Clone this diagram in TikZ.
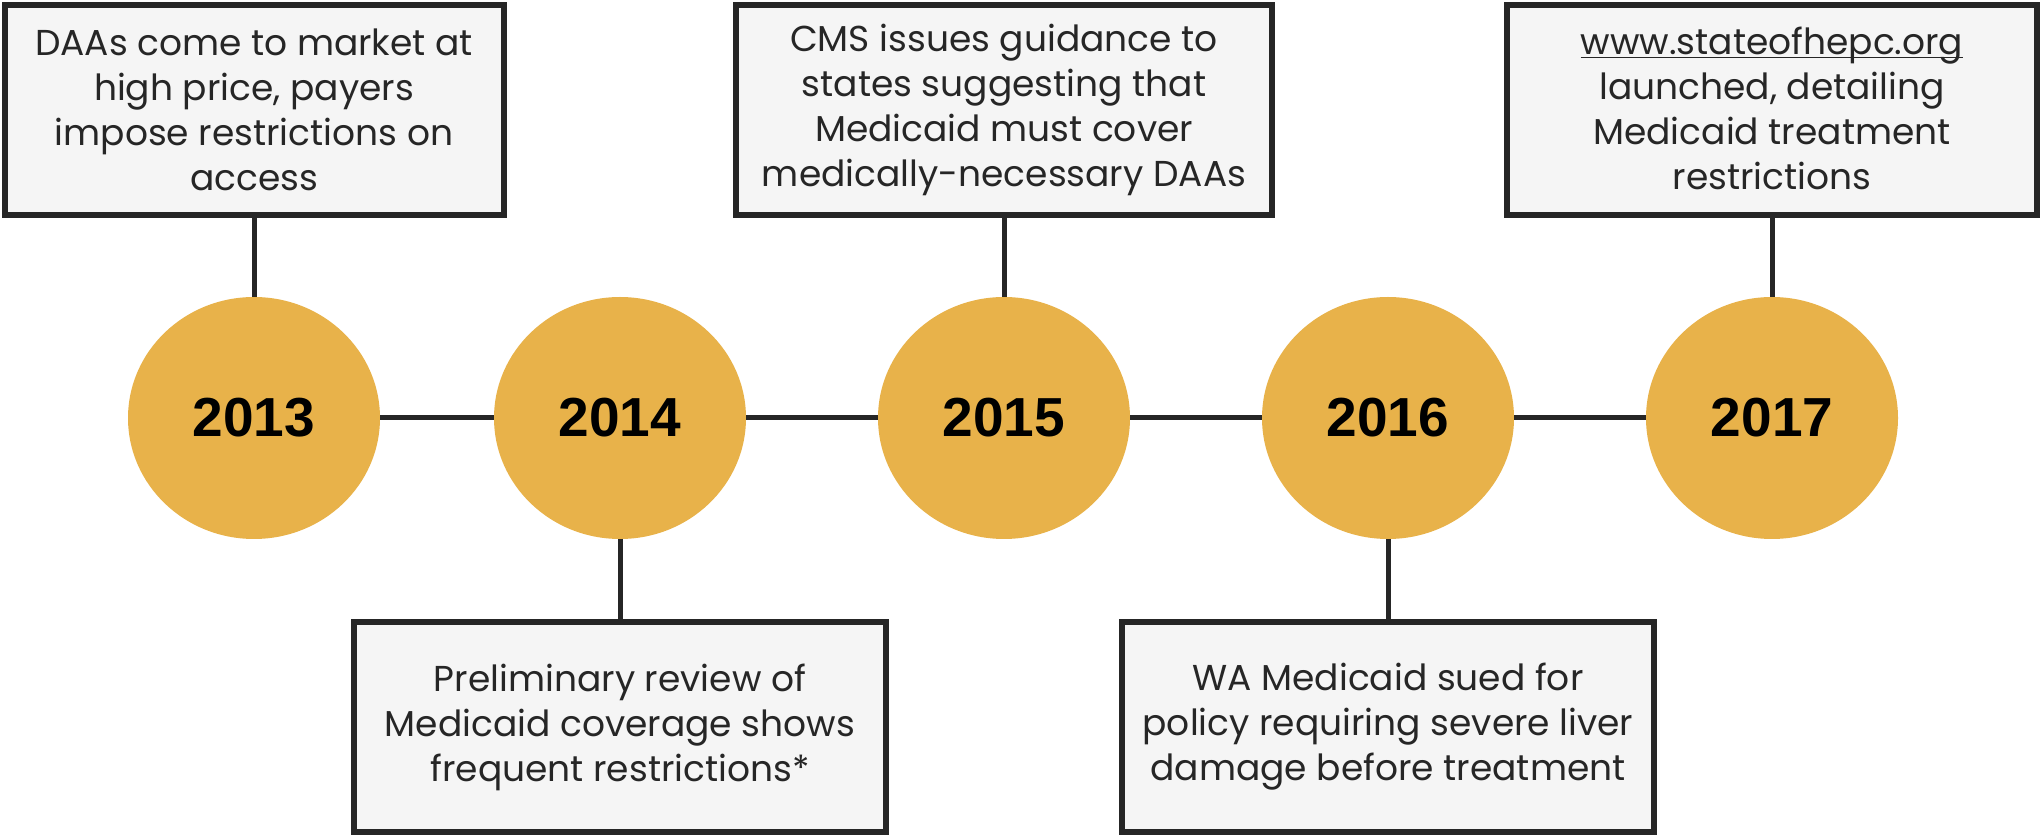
\documentclass[tikz,border=0pt]{standalone}
\usepackage{fontspec}
\setmainfont{Poppins}
\newfontfamily\yearfont{Liberation Sans}
\usetikzlibrary{shapes,positioning}
\definecolor{gold}{RGB}{232,178,74}
\definecolor{boxfill}{RGB}{245,245,245}
\definecolor{ink}{RGB}{38,38,38}

\begin{document}
\begin{tikzpicture}[x=0.5pt,y=0.5pt,
	year/.style={ellipse,fill=gold,minimum width=126pt,minimum height=121pt,
		inner sep=0pt,outer sep=0pt,font=\yearfont\bfseries\fontsize{27.5}{30}\selectfont},
	event/.style={rectangle,draw=ink,line width=3pt,fill=boxfill,text=ink,
		minimum width=266pt,minimum height=105pt,inner sep=4pt,outer sep=0pt,align=center,
		font=\fontsize{18}{22.5}\selectfont},
	link/.style={draw=ink,line width=2.5pt}]
\useasboundingbox (0,0) rectangle (2041,836);

% years along the time line
\node [year] (yr13) at (254,418) {2013};
\node [year] (yr14) at (620,418) {2014};
\node [year] (yr15) at (1004,418) {2015};
\node [year] (yr16) at (1388,418) {2016};
\node [year] (yr17) at (1772,418) {2017};

% events, above and below their year
\node [event,minimum width=249.5pt,above=41pt of yr13] (ev13)
	{DAAs come to market at\\high price, payers\\impose restrictions on\\access};
\node [event,below=41.5pt of yr14] (ev14)
	{Preliminary review of\\Medicaid coverage shows\\frequent restrictions*};
\node [event,minimum width=268pt,above=41pt of yr15] (ev15)
	{CMS issues guidance to\\states suggesting that\\Medicaid must cover\\medically-necessary DAAs};
\node [event,below=41.5pt of yr16] (ev16)
	{WA Medicaid sued for\\policy requiring severe liver\\damage before treatment};
\node [event,minimum width=265pt,above=41pt of yr17] (ev17)
	{\underline{\smash{www.stateofhepc.org}}\vphantom{Wg}\\launched, detailing\\Medicaid treatment\\restrictions};

\draw [link] (yr13) -- (yr14) -- (yr15) -- (yr16) -- (yr17);
\draw [link] (ev13) -- (yr13);
\draw [link] (yr14) -- (ev14);
\draw [link] (ev15) -- (yr15);
\draw [link] (yr16) -- (ev16);
\draw [link] (ev17) -- (yr17);
\end{tikzpicture}
\end{document}
